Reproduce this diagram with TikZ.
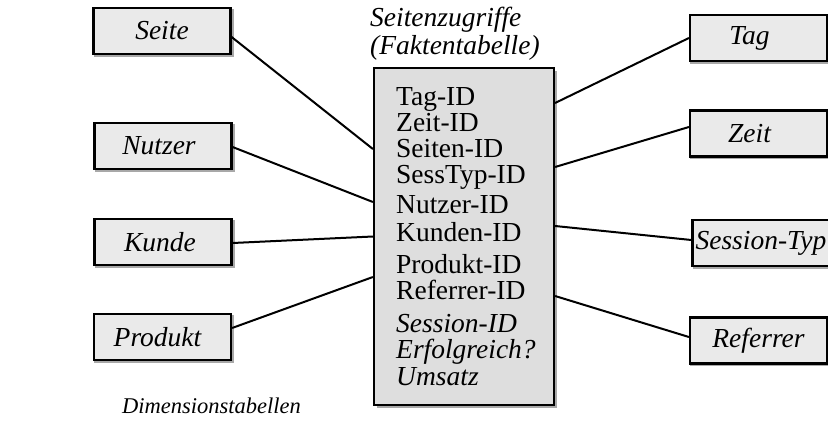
\documentclass[tikz,border=0pt]{standalone}
\usepackage{fontspec}
\setmainfont{Liberation Serif}
\begin{document}
\begin{tikzpicture}[x=1pt,y=-1pt,
  conn/.style={draw=black, line width=2pt},
  field/.style={anchor=base west, inner sep=0pt, font=\fontsize{27.5}{30}\selectfont},
  ifield/.style={field, font=\fontsize{27.5}{30}\selectfont\itshape},
  title/.style={anchor=base west, inner sep=0pt, font=\fontsize{27.5}{30}\selectfont\itshape},
  caption/.style={anchor=base west, inner sep=0pt, font=\fontsize{22.5}{26}\selectfont\itshape},
  dimbox/.style={draw=black, line width=2.2pt, fill=boxfill, inner sep=0pt,
    minimum width=137pt, minimum height=46pt, font=\fontsize{27.5}{30}\selectfont\itshape},
  shadowbox/.style={fill=shadowgray}]
\definecolor{boxfill}{HTML}{EAEAEA}
\definecolor{factfill}{HTML}{DEDEDE}
\definecolor{shadowgray}{HTML}{A8A8A8}
\useasboundingbox (0,0) rectangle (828,421);
% fact table
\fill[shadowbox] (376.5,70.5) rectangle (556.5,407.5);
\node[draw=black, line width=2.2pt, fill=factfill, minimum width=180pt, minimum height=337pt, inner sep=0pt] (fact) at (464,236.5) {};
\node[title] (t1) at (370,26) {Seitenzugriffe};
\node[title] (t2) at (370,54) {(Faktentabelle)};
\node[field] (f1) at (396,105) {Tag-ID};
\node[field] (f2) at (396,131) {Zeit-ID};
\node[field] (f3) at (396,157) {Seiten-ID};
\node[field] (f4) at (396,183) {SessTyp-ID};
\node[field] (f5) at (396,213) {Nutzer-ID};
\node[field] (f6) at (396,241) {Kunden-ID};
\node[field] (f7) at (396,273) {Produkt-ID};
\node[field] (f8) at (396,299) {Referrer-ID};
\node[ifield] (f9) at (396,332) {Session-ID};
\node[ifield] (f10) at (396,358) {Erfolgreich?};
\node[ifield] (f11) at (396,385) {Umsatz};
% dimension boxes
\newcommand{\dimbx}[4]{%
  \fill[shadowbox] (#1+1.5-70,#2+1.5-24) rectangle (#1+1.5+70,#2+1.5+24);
  \node[dimbox] (#3) at (#1,#2) {#4};}
\dimbx{162}{31}{seite}{Seite}
\dimbx{163}{146}{nutzer}{\hspace*{-8pt}Nutzer}
\dimbx{163}{242}{kunde}{\hspace*{-6pt}Kunde}
\dimbx{162.5}{337}{produkt}{\hspace*{-10pt}Produkt}
\dimbx{758.5}{38}{tag}{\hspace*{-18pt}Tag}
\dimbx{758.5}{133.5}{zeit}{\hspace*{-18pt}Zeit}
\dimbx{761}{243}{stype}{Session-Typ}
\dimbx{758.5}{340.5}{ref}{Referrer}
\node[caption] (dimlabel) at (122,413) {Dimensionstabellen};
% connectors
\draw[conn] ([yshift=-6pt]seite.east) -- ([yshift=87.5pt]fact.west);
\draw[conn] ([yshift=-1pt]nutzer.east) -- ([yshift=34.5pt]fact.west);
\draw[conn] ([yshift=-1pt]kunde.east) -- ([yshift=0pt]fact.west);
\draw[conn] ([yshift=9pt]produkt.east) -- ([yshift=-40.5pt]fact.west);
\draw[conn] ([yshift=133.5pt]fact.east) -- (tag.west);
\draw[conn] ([yshift=69.5pt]fact.east) -- ([yshift=6.5pt]zeit.west);
\draw[conn] ([yshift=10.5pt]fact.east) -- ([yshift=3pt]stype.west);
\draw[conn] ([yshift=-59.5pt]fact.east) -- ([yshift=3.5pt]ref.west);
\end{tikzpicture}
\end{document}
